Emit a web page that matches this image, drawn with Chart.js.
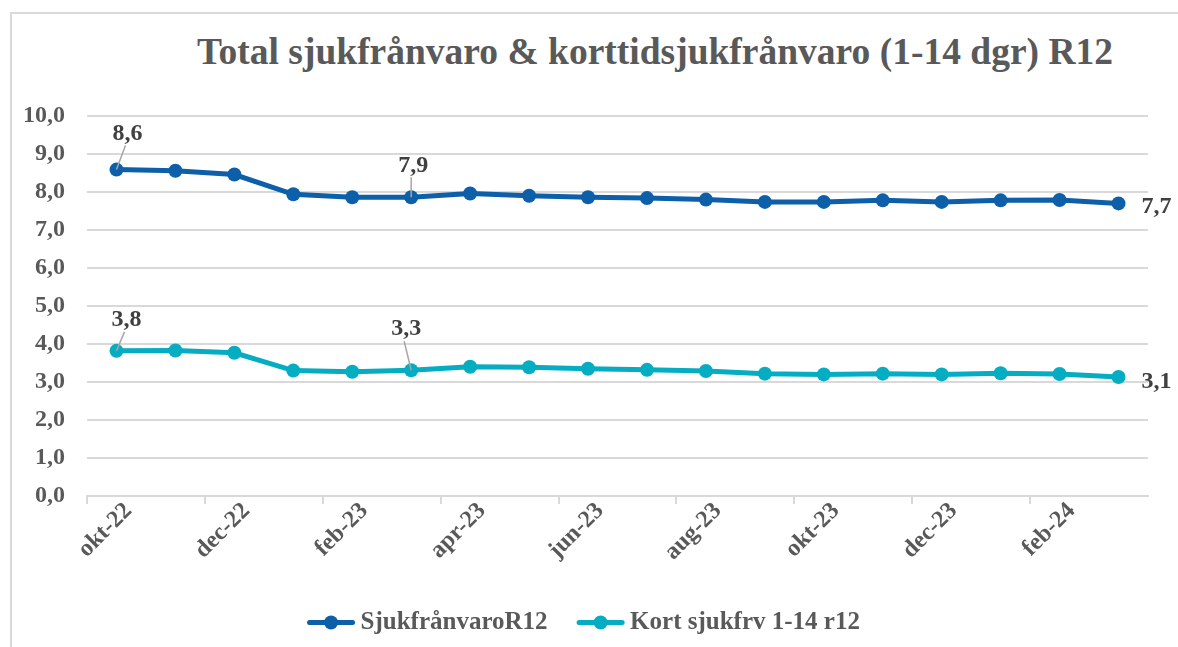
<!DOCTYPE html>
<html>
<head>
<meta charset="utf-8">
<script src="https://cdn.jsdelivr.net/npm/chart.js@4"></script>
<style>
  body { margin: 0; background: #fff; }
  #wrap { position: relative; width: 1178px; height: 647px; overflow: hidden; }
  #frame { position: absolute; left: 10px; top: 12px; width: 1300px; height: 800px;
           border-left: 2px solid #d9d9d9; border-top: 2px solid #d9d9d9; }
  #title { position: absolute; left: 155px; width: 1000px; top: 30px; text-align: center;
           font: bold 37.5px "Liberation Serif"; color: #595959; white-space: nowrap; }
  canvas { position: absolute; left: 0; top: 0; }
</style>
</head>
<body>
<div id="wrap">
  <div id="frame"></div>
  <div id="title">Total sjukfrånvaro &amp; korttidsjukfrånvaro (1-14 dgr) R12</div>
  <canvas id="sickChart" width="1178" height="647"></canvas>
</div>
<script>
var months = ['okt-22', 'nov-22', 'dec-22', 'jan-23', 'feb-23', 'mar-23', 'apr-23', 'maj-23', 'jun-23',
  'jul-23', 'aug-23', 'sep-23', 'okt-23', 'nov-23', 'dec-23', 'jan-24', 'feb-24', 'mar-24'];
var sjukR12 = [8.59, 8.56, 8.46, 7.94, 7.86, 7.86, 7.96, 7.90, 7.86, 7.84, 7.80, 7.74, 7.74, 7.78, 7.74, 7.78, 7.79, 7.70];
var kortR12 = [3.82, 3.83, 3.77, 3.30, 3.27, 3.31, 3.40, 3.39, 3.35, 3.32, 3.29, 3.22, 3.20, 3.22, 3.20, 3.23, 3.21, 3.13];
var yTicks = [0, 1, 2, 3, 4, 5, 6, 7, 8, 9, 10];

var blue = '#0c5fa8';
var teal = '#05adc2';
var serif = 'Liberation Serif';

function comma(v) {
  return v.toFixed(1).replace('.', ',');
}

// which points get a value label, and where it sits relative to the point
var callouts = [
  { ds: 0, i: 0, dx: 11, dy: -36, lead: true },
  { ds: 0, i: 5, dx: 2, dy: -32, lead: true },
  { ds: 0, i: 17, dx: 38, dy: 3, lead: false },
  { ds: 1, i: 0, dx: 10, dy: -31, lead: true },
  { ds: 1, i: 5, dx: -5, dy: -41, lead: true },
  { ds: 1, i: 17, dx: 38, dy: 5, lead: false }
];

var legendBox = 60;

var calloutPlugin = {
  id: 'callouts',
  afterDatasetsDraw: function(chart) {
    var ctx = chart.ctx;
    ctx.save();
    ctx.font = 'bold 24px "' + serif + '"';
    ctx.fillStyle = '#404040';
    ctx.textAlign = 'center';
    ctx.textBaseline = 'middle';
    callouts.forEach(function(c) {
      var pt = chart.getDatasetMeta(c.ds).data[c.i];
      var val = chart.data.datasets[c.ds].data[c.i];
      var tx = pt.x + c.dx, ty = pt.y + c.dy;
      if (c.lead) {
        ctx.strokeStyle = '#a6a6a6';
        ctx.lineWidth = 1.5;
        ctx.beginPath();
        ctx.moveTo(pt.x, pt.y);
        ctx.lineTo(tx - 2, ty + 12);
        ctx.stroke();
      }
      ctx.fillText(comma(val), tx, ty);
    });
    ctx.restore();
  },
  afterDraw: function(chart) {
    // legend marker: line with a dot in the middle, just left of the text
    var lg = chart.legend;
    if (!lg || !lg.legendHitBoxes) return;
    var ctx = chart.ctx;
    ctx.save();
    lg.legendHitBoxes.forEach(function(hb, k) {
      var col = chart.data.datasets[k].borderColor;
      var y = hb.top + hb.height / 2;
      var end = hb.left + legendBox + 12.5 - 8;
      ctx.strokeStyle = col;
      ctx.fillStyle = col;
      ctx.lineWidth = 5;
      ctx.lineCap = 'round';
      ctx.beginPath();
      ctx.moveTo(end - 43, y);
      ctx.lineTo(end, y);
      ctx.stroke();
      ctx.beginPath();
      ctx.arc(end - 21.5, y, 7, 0, Math.PI * 2);
      ctx.fill();
    });
    ctx.restore();
  }
};

var ctx = document.getElementById('sickChart').getContext('2d');
var chart = new Chart(ctx, {
  type: 'line',
  data: {
    labels: months,
    datasets: [
      {
        label: 'SjukfrånvaroR12',
        data: sjukR12,
        borderColor: blue,
        backgroundColor: blue,
        borderWidth: 5,
        pointRadius: 7,
        pointBorderWidth: 0,
        pointBackgroundColor: blue,
        tension: 0
      },
      {
        label: 'Kort sjukfrv 1-14 r12',
        data: kortR12,
        borderColor: teal,
        backgroundColor: teal,
        borderWidth: 5,
        pointRadius: 7,
        pointBorderWidth: 0,
        pointBackgroundColor: teal,
        tension: 0
      }
    ]
  },
  options: {
    responsive: false,
    animation: false,
    layout: { padding: { top: 116, right: 30, left: 0, bottom: 2 } },
    scales: {
      x: {
        offset: true,
        afterFit: function(s) { s.height = 104; },
        grid: {
          offset: true,
          drawOnChartArea: false,
          drawTicks: true,
          tickLength: 8,
          lineWidth: 2,
          color: function(c) { return c.index % 2 === 0 ? '#d9d9d9' : 'rgba(0,0,0,0)'; }
        },
        border: { display: true, color: '#d9d9d9', width: 2 },
        ticks: {
          autoSkip: false,
          minRotation: 45,
          maxRotation: 45,
          padding: -7,
          labelOffset: 12,
          color: '#595959',
          font: { family: serif, size: 24, weight: 'bold' },
          callback: function(v, i) { return i % 2 === 0 ? months[i] : ''; }
        }
      },
      y: {
        min: yTicks[0],
        max: yTicks[yTicks.length - 1],
        afterFit: function(s) { s.width = 87; },
        afterBuildTicks: function(s) { s.ticks = yTicks.map(function(v) { return { value: v }; }); },
        grid: { color: '#d9d9d9', lineWidth: 2, drawTicks: false },
        border: { display: false },
        ticks: {
          padding: 22,
          color: '#595959',
          font: { family: serif, size: 24, weight: 'bold' },
          callback: function(v) { return comma(v); }
        }
      }
    },
    plugins: {
      title: { display: false },
      tooltip: { enabled: false },
      legend: {
        position: 'bottom',
        labels: {
          color: '#595959',
          font: { family: serif, size: 25, weight: 'bold' },
          boxWidth: legendBox,
          boxHeight: 5,
          padding: 10,
          generateLabels: function(chart) {
            return chart.data.datasets.map(function(d, k) {
              return {
                text: d.label,
                fillStyle: 'rgba(0,0,0,0)',
                strokeStyle: 'rgba(0,0,0,0)',
                lineWidth: 0,
                fontColor: '#595959',
                datasetIndex: k,
                hidden: false
              };
            });
          }
        }
      }
    }
  },
  plugins: [calloutPlugin]
});
</script>
</body>
</html>
